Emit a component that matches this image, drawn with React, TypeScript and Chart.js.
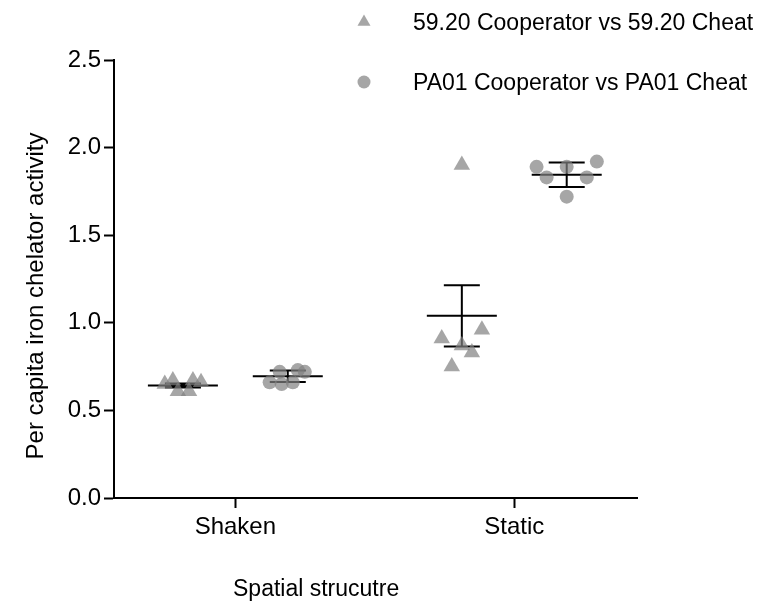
import React, { useEffect, useRef } from "react";
import { Chart, registerables } from "chart.js";

Chart.register(...registerables);

// ---- data ----
const categories = ["Shaken", "Static"];
const seriesNames = ["59.20 Cooperator vs 59.20 Cheat", "PA01 Cooperator vs PA01 Cheat"];
const yTickValues = [0, 0.5, 1.0, 1.5, 2.0, 2.5];
const xAxisTitle = "Spatial strucutre";
const yAxisTitle = "Per capita iron chelator activity";

// replicate values (per capita iron chelator activity)
const shaken5920 = [0.65, 0.67, 0.61, 0.61, 0.67, 0.66];
const static5920 = [0.91, 0.75, 0.87, 1.9, 0.83, 0.96];
const shakenPA01 = [0.66, 0.72, 0.65, 0.66, 0.73, 0.72];
const staticPA01 = [1.89, 1.83, 1.89, 1.72, 1.83, 1.92];

// horizontal scatter of the dots within each column (category units)
const jitterShaken5920 = [-0.065, -0.036, -0.018, 0.022, 0.036, 0.065];
const jitterStatic5920 = [-0.072, -0.036, 0.0, 0.0, 0.036, 0.072];
const jitterShakenPA01 = [-0.065, -0.029, -0.022, 0.018, 0.036, 0.061];
const jitterStaticPA01 = [-0.108, -0.072, 0.0, 0.0, 0.072, 0.108];

// column summaries (mean and error bar half-length)
const mean5920 = [0.642, 1.04];
const err5920 = [0.012, 0.175];
const meanPA01 = [0.695, 1.845];
const errPA01 = [0.033, 0.07];

// ---- styling ----
const FONT = '"Liberation Sans", Arial, Helvetica, sans-serif';
const TICK_SIZE = 24;
const TEXT_SIZE = 23;
const DOT = "rgba(128,128,128,0.7)";
const GROUP_OFFSET = 0.188;

function points(values: number[], jitter: number[], cat: number, side: number) {
  return values.map((v, i) => ({ x: cat + 1 + side * GROUP_OFFSET + jitter[i], y: v }));
}

const errorBarPlugin = {
  id: "errorBars",
  beforeDatasetsDraw(chart: any) {
    const { ctx } = chart;
    const xs = chart.scales.x;
    const ys = chart.scales.y;
    const groups = [
      { side: -1, mean: mean5920, err: err5920 },
      { side: 1, mean: meanPA01, err: errPA01 },
    ];
    ctx.save();
    ctx.strokeStyle = "#000";
    ctx.lineWidth = 2;
    groups.forEach((g) => {
      categories.forEach((_, i) => {
        const cx = xs.getPixelForValue(i + 1 + g.side * GROUP_OFFSET);
        const ym = ys.getPixelForValue(g.mean[i]);
        const yt = ys.getPixelForValue(g.mean[i] + g.err[i]);
        const yb = ys.getPixelForValue(g.mean[i] - g.err[i]);
        ctx.beginPath();
        ctx.moveTo(cx - 35, ym);
        ctx.lineTo(cx + 35, ym);
        ctx.moveTo(cx, yt);
        ctx.lineTo(cx, yb);
        ctx.moveTo(cx - 18, yt);
        ctx.lineTo(cx + 18, yt);
        ctx.moveTo(cx - 18, yb);
        ctx.lineTo(cx + 18, yb);
        ctx.stroke();
      });
    });
    ctx.restore();
  },
  afterDraw(chart: any) {
    const { ctx } = chart;
    ctx.save();
    ctx.font = `${TEXT_SIZE}px ${FONT}`;
    // legend
    ctx.textAlign = "left";
    ctx.textBaseline = "middle";
    const legendY = [22, 82];
    const mx = 364;
    ctx.fillStyle = DOT;
    const r = 7.5;
    ctx.beginPath();
    ctx.moveTo(mx, legendY[0] - r);
    ctx.lineTo(mx + r * 0.866, legendY[0] + r * 0.5);
    ctx.lineTo(mx - r * 0.866, legendY[0] + r * 0.5);
    ctx.closePath();
    ctx.fill();
    ctx.beginPath();
    ctx.arc(mx, legendY[1], 6.5, 0, Math.PI * 2);
    ctx.fill();
    ctx.fillStyle = "#000";
    ctx.fillText(seriesNames[0], 413, legendY[0] + 1.5);
    ctx.fillText(seriesNames[1], 413, legendY[1] + 1.5);
    // x title
    ctx.fillText(xAxisTitle, 233, 590);
    // y title
    ctx.font = `${TICK_SIZE}px ${FONT}`;
    ctx.translate(36, 296);
    ctx.rotate(-Math.PI / 2);
    ctx.textAlign = "center";
    ctx.fillText(yAxisTitle, 0, 0);
    ctx.restore();
  },
};

export default function App() {
  const ref = useRef<HTMLCanvasElement | null>(null);
  useEffect(() => {
    if (!ref.current) return;
    const chart = new Chart(ref.current, {
      type: "scatter",
      data: {
        datasets: [
          {
            label: seriesNames[0],
            data: [
              ...points(shaken5920, jitterShaken5920, 0, -1),
              ...points(static5920, jitterStatic5920, 1, -1),
            ],
            pointStyle: "triangle",
            pointRadius: 9.5,
            pointBackgroundColor: DOT,
            pointBorderWidth: 0,
            pointBorderColor: "rgba(0,0,0,0)",
          },
          {
            label: seriesNames[1],
            data: [
              ...points(shakenPA01, jitterShakenPA01, 0, 1),
              ...points(staticPA01, jitterStaticPA01, 1, 1),
            ],
            pointStyle: "circle",
            pointRadius: 7,
            pointBackgroundColor: DOT,
            pointBorderWidth: 0,
            pointBorderColor: "rgba(0,0,0,0)",
          },
        ],
      },
      options: {
        animation: false,
        responsive: false,
        devicePixelRatio: 1,
        layout: { padding: { top: 60, right: 127, bottom: 0, left: 0 } },
        plugins: { legend: { display: false }, tooltip: { enabled: false } },
        scales: {
          x: {
            type: "linear",
            min: 0.565,
            max: 2.44,
            afterBuildTicks: (s: any) => {
              s.ticks = categories.map((_, i) => ({ value: i + 1 }));
            },
            afterFit: (s: any) => {
              s.height = 104;
            },
            ticks: {
              callback: (v: any) => categories[Math.round(Number(v)) - 1] ?? "",
              font: { family: FONT, size: TICK_SIZE },
              color: "#000",
              padding: 5,
              maxRotation: 0,
            },
            grid: {
              drawOnChartArea: false,
              drawTicks: true,
              tickLength: 10,
              tickWidth: 2,
              tickColor: "#000",
            },
            border: { color: "#000", width: 2 },
          },
          y: {
            type: "linear",
            min: 0,
            max: 2.5,
            afterBuildTicks: (s: any) => {
              s.ticks = yTickValues.map((v) => ({ value: v }));
            },
            afterFit: (s: any) => {
              s.width = 114;
            },
            ticks: {
              callback: (v: any) => Number(v).toFixed(1),
              font: { family: FONT, size: TICK_SIZE },
              color: "#000",
              padding: 3,
            },
            grid: {
              drawOnChartArea: false,
              drawTicks: true,
              tickLength: 10,
              tickWidth: 2,
              tickColor: "#000",
            },
            border: { color: "#000", width: 2 },
          },
        },
      },
      plugins: [errorBarPlugin],
    });
    return () => chart.destroy();
  }, []);
  return (
    <div style={{ position: "fixed", left: 0, top: 0, width: 764, height: 602, background: "#fff" }}>
      <canvas ref={ref} width={764} height={602} style={{ display: "block" }} />
    </div>
  );
}
